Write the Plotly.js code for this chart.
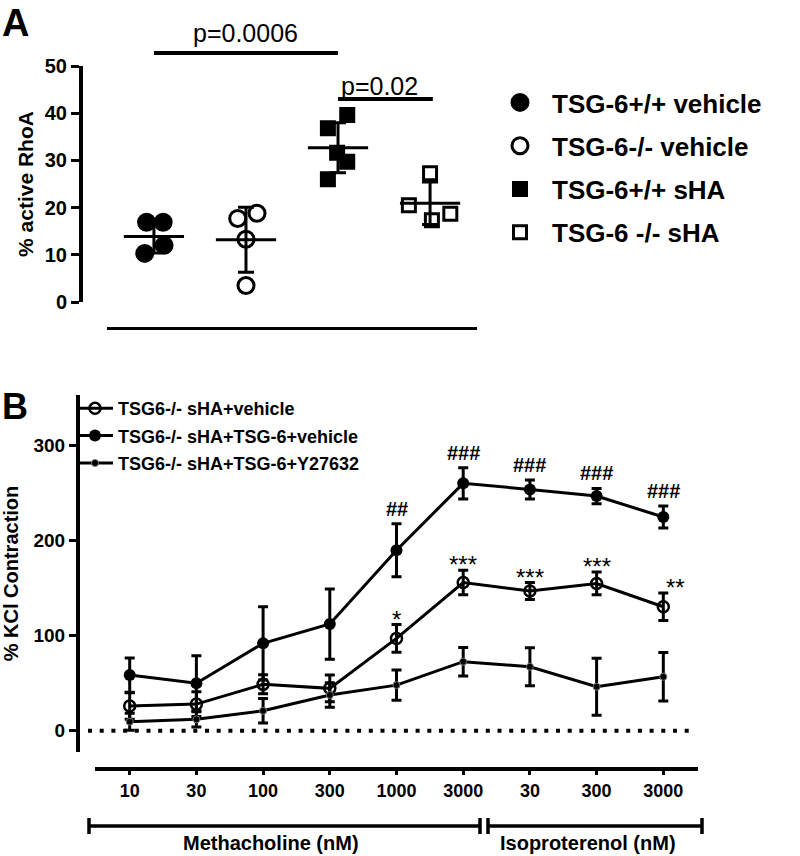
<!DOCTYPE html>
<html>
<head>
<meta charset="utf-8">
<script src="https://cdn.plot.ly/plotly-3.0.1.min.js"></script>
<style>
html, body { margin: 0; padding: 0; background: #fff; }
#chart { width: 800px; height: 856px; }
</style>
</head>
<body>
<div id="chart"></div>
<script>
// ---- panel A : % active RhoA, one dot per lung ----
const groupsA = ['TSG-6+/+ vehicle', 'TSG-6-/- vehicle', 'TSG-6+/+ sHA', 'TSG-6 -/- sHA'];
const wtVehicle = [16.9, 16.9, 10.3, 12.0];
const koVehicle = [17.7, 18.8, 13.3, 3.5];
const wtSha = [36.8, 39.6, 31.6, 29.7, 26.0];
const koSha = [27.3, 20.5, 18.7, 17.3];
const meanA = [13.9, 13.2, 32.7, 20.9];
const sdA = [3.5, 6.9, 5.3, 4.5];
// sideways spread of the dots inside a column (column units)
const spreadA = [
    [-0.08, 0.10, -0.10, 0.11],
    [-0.09, 0.12, 0, 0],
    [-0.11, 0.10, -0.01, 0.10, -0.11],
    [0, -0.23, 0.22, 0.02]
];

// ---- panel B : % KCl contraction ----
const doses = ['10', '30', '100', '300', '1000', '3000', '30', '300', '3000'];
const namesB = ['TSG6-/- sHA+vehicle', 'TSG6-/- sHA+TSG-6+vehicle', 'TSG6-/- sHA+TSG-6+Y27632'];
const shaVehicle = [26, 28, 48.8, 44.6, 97.2, 156, 147, 155, 130.5];
const shaVehicleErr = [14, 13, 10, 14, 14.5, 13, 9, 12, 14.5];
const shaTsg6 = [58.6, 49.9, 92, 112.3, 190, 260.4, 254, 247, 225];
const shaTsg6Err = [18, 29, 38.5, 37, 28, 16.5, 10, 8, 11.5];
const shaTsg6Y = [9.5, 12, 21, 37.6, 48, 72.7, 67.4, 46.3, 56.8];
const shaTsg6YErr = [9, 8, 13, 13, 16, 15, 20, 30, 25.5];
const hashMarks = ['', '', '', '', '##', '###', '###', '###', '###'];
const starMarks = ['', '', '', '', '*', '***', '***', '***', '**'];

const W = 800, H = 856;
const FONT = 'Liberation Sans, Arial, sans-serif';
// pixel -> paper helpers
function px(x) { return x / W; }
function py(y) { return 1 - y / H; }

function bold(size) {
    return { family: FONT, size: size, color: 'black', weight: 'bold' };
}

let data = [];

// column dots
const dotsA = [wtVehicle, koVehicle, wtSha, koSha];
const symbolsA = ['circle', 'circle-open', 'square', 'square-open'];
const sizesA = [16, 16, 13, 13];
for (let g = 0; g < dotsA.length; g++) {
    let xs = [];
    for (let i = 0; i < dotsA[g].length; i++) {
        xs.push(g + spreadA[g][i]);
    }
    data.push({
        x: xs,
        y: dotsA[g],
        type: 'scatter',
        mode: 'markers',
        name: groupsA[g],
        legend: 'legend',
        legendgroup: 'a' + g,
        xaxis: 'x',
        yaxis: 'y',
        marker: { symbol: symbolsA[g], size: sizesA[g], color: 'black', line: { color: 'black', width: 3 } },
        hoverinfo: 'skip'
    });
}

// mean line + SD bars
data.push({
    x: [0, 1, 2, 3],
    y: meanA,
    type: 'scatter',
    mode: 'markers',
    showlegend: false,
    xaxis: 'x',
    yaxis: 'y',
    marker: { symbol: 'line-ew', size: 43, color: 'black', line: { color: 'black', width: 3 } },
    error_y: { type: 'data', array: sdA, visible: true, color: 'black', thickness: 3, width: 8 },
    hoverinfo: 'skip'
});

// panel B lines
const seriesB = [shaVehicle, shaTsg6, shaTsg6Y];
const errB = [shaVehicleErr, shaTsg6Err, shaTsg6YErr];
const markersB = [
    { symbol: 'circle-open', size: 11, color: 'black', line: { color: 'black', width: 2.5 } },
    { symbol: 'circle', size: 12, color: 'black', line: { color: 'black', width: 0 } },
    { symbol: 'circle', size: 7, color: 'black', line: { color: '#777', width: 1 } }
];
for (let s = 0; s < seriesB.length; s++) {
    data.push({
        x: [0, 1, 2, 3, 4, 5, 6, 7, 8],
        y: seriesB[s],
        type: 'scatter',
        mode: 'lines+markers',
        name: namesB[s],
        legend: 'legend2',
        legendgroup: 'b' + s,
        xaxis: 'x2',
        yaxis: 'y2',
        line: { color: 'black', width: 3 },
        marker: markersB[s],
        error_y: { type: 'data', array: errB[s], visible: true, color: 'black', thickness: 3, width: 5 },
        hoverinfo: 'skip'
    });
}

// significance marks above the error bars
let annotations = [];
for (let i = 0; i < doses.length; i++) {
    if (hashMarks[i]) {
        annotations.push({
            xref: 'x2', yref: 'y2', x: i, y: shaTsg6[i] + shaTsg6Err[i],
            text: hashMarks[i], showarrow: false, xanchor: 'center', yanchor: 'bottom', yshift: 2,
            font: bold(20)
        });
    }
    if (starMarks[i]) {
        annotations.push({
            xref: 'x2', yref: 'y2', x: i, y: shaVehicle[i] + shaVehicleErr[i],
            text: starMarks[i], showarrow: false, xanchor: 'center', yanchor: 'bottom', yshift: -10,
            xshift: i === 8 ? 12 : 0,
            font: { family: FONT, size: 24, color: 'black' }
        });
    }
}

annotations.push(
    { xref: 'paper', yref: 'paper', x: 0, y: 1, xanchor: 'left', yanchor: 'top',
      text: 'A', showarrow: false, font: bold(38) },
    { xref: 'paper', yref: 'paper', x: 0, y: py(384), xanchor: 'left', yanchor: 'top',
      text: 'B', showarrow: false, font: bold(36) },
    { xref: 'x', yref: 'paper', x: 1, y: py(53), xanchor: 'center', yanchor: 'bottom', yshift: 4,
      text: 'p=0.0006', showarrow: false, font: { family: FONT, size: 25, color: 'black' } },
    { xref: 'x', yref: 'paper', x: 2.45, y: py(99), xanchor: 'center', yanchor: 'bottom', yshift: -3,
      text: 'p=0.02', showarrow: false, font: { family: FONT, size: 25, color: 'black' } },
    { xref: 'paper', yref: 'paper', x: px(271), y: py(843), xanchor: 'center', yanchor: 'middle',
      text: 'Methacholine (nM)', showarrow: false, font: bold(20) },
    { xref: 'paper', yref: 'paper', x: px(588), y: py(843), xanchor: 'center', yanchor: 'middle',
      text: 'Isoproterenol (nM)', showarrow: false, font: bold(20) }
);

function hline(x0, x1, y, w) {
    return { type: 'line', xref: 'paper', yref: 'paper', x0: px(x0), x1: px(x1), y0: py(y), y1: py(y),
             line: { color: 'black', width: w } };
}
function vline(x, y0, y1, w) {
    return { type: 'line', xref: 'paper', yref: 'paper', x0: px(x), x1: px(x), y0: py(y0), y1: py(y1),
             line: { color: 'black', width: w } };
}

let shapes = [
    // p-value bars
    { type: 'line', xref: 'x', yref: 'paper', x0: 0, x1: 2, y0: py(53), y1: py(53), line: { color: 'black', width: 4 } },
    { type: 'line', xref: 'x', yref: 'paper', x0: 2, x1: 3.03, y0: py(99), y1: py(99), line: { color: 'black', width: 4 } },
    // zero line
    { type: 'line', xref: 'paper', yref: 'y2', x0: px(88), x1: px(692), y0: 0, y1: 0, layer: 'below',
      line: { color: 'black', width: 4, dash: '4px,7.7px' } },
    // drug brackets
    hline(89, 480, 826, 3.5), vline(89, 818, 834, 3.5), vline(480, 818, 834, 3.5),
    hline(488, 702, 826, 3.5), vline(488, 818, 834, 3.5), vline(702, 818, 834, 3.5)
];

const layout = {
    width: W,
    height: H,
    margin: { l: 0, r: 0, t: 0, b: 0 },
    paper_bgcolor: 'white',
    plot_bgcolor: 'white',
    font: { family: FONT, color: 'black' },
    xaxis: {
        domain: [px(107), px(477)], range: [-0.51, 3.51], anchor: 'free', position: py(328),
        showline: true, linewidth: 3, linecolor: 'black', showticklabels: false, ticks: '',
        showgrid: false, zeroline: false, fixedrange: true
    },
    yaxis: {
        domain: [py(302), py(66)], range: [0, 50], anchor: 'free', position: px(80),
        showline: true, linewidth: 3.5, linecolor: 'black', ticks: 'outside', ticklen: 8, tickwidth: 3,
        tickcolor: 'black', tickvals: [0, 10, 20, 30, 40, 50], tickfont: bold(20),
        title: { text: '% active RhoA', font: bold(21), standoff: 4 },
        showgrid: false, zeroline: false, fixedrange: true
    },
    xaxis2: {
        domain: [px(95), px(698)], range: [-0.52, 8.52], anchor: 'free', position: py(769),
        showline: true, linewidth: 4, linecolor: 'black', ticks: 'outside', ticklen: 4, tickwidth: 3,
        tickcolor: 'black', tickvals: [0, 1, 2, 3, 4, 5, 6, 7, 8], ticktext: doses, tickfont: bold(18),
        showgrid: false, zeroline: false, fixedrange: true
    },
    yaxis2: {
        domain: [py(752), py(395)], range: [-22.4, 353.4], anchor: 'free', position: px(77),
        showline: true, linewidth: 3.5, linecolor: 'black', ticks: 'outside', ticklen: 7, tickwidth: 3,
        tickcolor: 'black', tickvals: [0, 100, 200, 300], tickfont: bold(19),
        title: { text: '% KCl Contraction', font: bold(20), standoff: 8 },
        showgrid: false, zeroline: false, fixedrange: true
    },
    legend: {
        x: px(488), y: py(79), xanchor: 'left', yanchor: 'top', itemwidth: 54,
        font: bold(26), traceorder: 'grouped', tracegroupgap: 6.5, bgcolor: 'rgba(0,0,0,0)'
    },
    legend2: {
        x: px(72), y: py(390), xanchor: 'left', yanchor: 'top', itemwidth: 36,
        font: bold(18), traceorder: 'grouped', tracegroupgap: 1, bgcolor: 'rgba(0,0,0,0)'
    },
    shapes: shapes,
    annotations: annotations,
    showlegend: true
};

Plotly.newPlot('chart', data, layout, { displayModeBar: false, staticPlot: true });
</script>
</body>
</html>
